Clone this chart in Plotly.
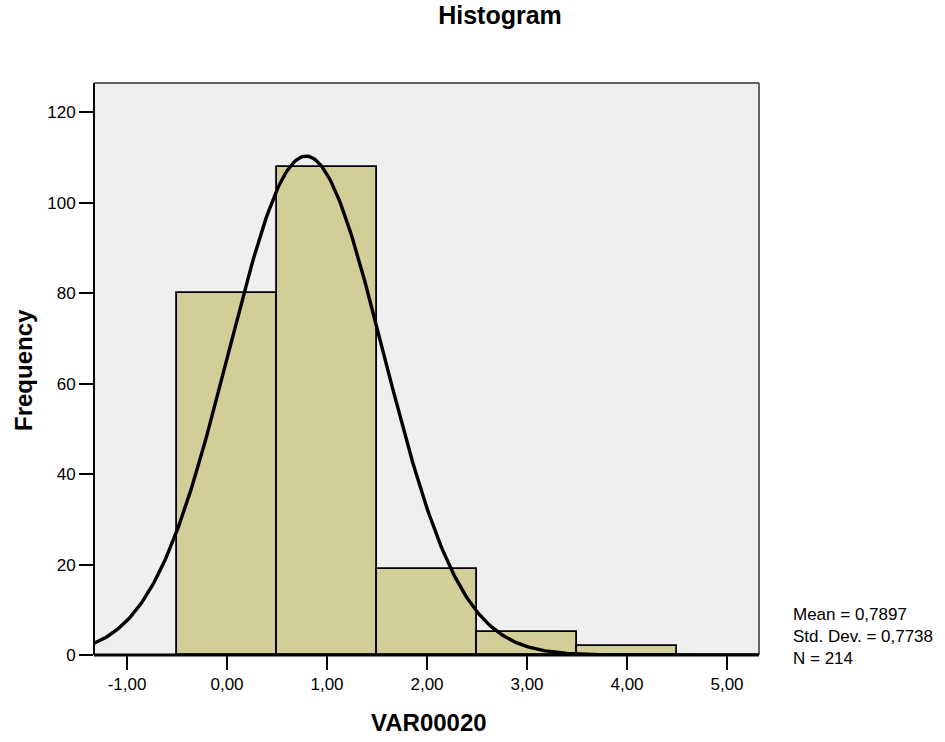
import numpy as np
import plotly.graph_objects as go

# Data
bin_centers = [0, 1, 2, 3, 4]
frequencies = [80, 108, 19, 5, 2]
bin_width = 1.0
mean_val = 0.7897
std_val = 0.7738
n_val = 214
x_ticks = [-1, 0, 1, 2, 3, 4, 5]
x_tick_labels = ["-1,00", "0,00", "1,00", "2,00", "3,00", "4,00", "5,00"]
y_ticks = [0, 20, 40, 60, 80, 100, 120]

x_range = [-1.33, 5.32]
y_range = [0, 126.5]

# Fitted normal curve from the reported mean / sd / N
xs = np.linspace(x_range[0], x_range[1], 400)
ys = n_val * bin_width / (std_val * np.sqrt(2 * np.pi)) * np.exp(-0.5 * ((xs - mean_val) / std_val) ** 2)

fig = go.Figure()
fig.add_trace(go.Bar(
    x=bin_centers, y=frequencies, width=bin_width,
    marker=dict(color="#d3ce98", line=dict(color="black", width=1.8)),
    hoverinfo="x+y", showlegend=False,
))
fig.add_trace(go.Scatter(
    x=xs, y=ys, mode="lines",
    line=dict(color="black", width=3.4),
    showlegend=False, hoverinfo="skip",
))

font_family = "Liberation Sans, Arial, sans-serif"

L, R, T, B = 94, 186, 83, 87
PW, PH = 945 - L - R, 742 - T - B


def px_x(px):
    return (px - L) / PW


def px_y(py):
    return (742 - B - py) / PH


fig.update_layout(
    width=945, height=742,
    margin=dict(l=L, r=R, t=T, b=B),
    paper_bgcolor="white",
    plot_bgcolor="#efefef",
    separators=",.",
    font=dict(family=font_family, size=17, color="black"),
    title=dict(text="<b>Histogram</b>", x=500 / 945, xanchor="center",
               y=1 - 15 / 742, yanchor="middle", xref="container", yref="container",
               font=dict(size=25, family=font_family, color="black")),
    bargap=0,
    xaxis=dict(
        range=x_range, tickvals=x_ticks, ticktext=x_tick_labels,
        ticks="outside", ticklen=14, tickwidth=2, tickcolor="black",
        showgrid=False, zeroline=False, showline=False,
        tickfont=dict(size=17),
    ),
    yaxis=dict(
        range=y_range, tickvals=y_ticks,
        ticks="outside", ticklen=14, tickwidth=2, tickcolor="black",
        showgrid=False, zeroline=False, showline=False,
        tickfont=dict(size=17),
    ),
    shapes=[
        dict(type="line", xref="paper", yref="paper", x0=0, x1=1, y0=1, y1=1,
             line=dict(color="#333333", width=1.5)),
        dict(type="line", xref="paper", yref="paper", x0=1, x1=1, y0=0, y1=1,
             line=dict(color="#333333", width=1.5)),
        dict(type="line", xref="paper", yref="paper", x0=0, x1=0, y0=0, y1=1,
             line=dict(color="black", width=2)),
        dict(type="line", xref="paper", yref="paper", x0=0, x1=1, y0=0, y1=0,
             line=dict(color="black", width=3)),
    ],
    annotations=[
        dict(text="<b>VAR00020</b>", xref="paper", yref="paper",
             x=px_x(428.5), y=px_y(722), xanchor="center", yanchor="middle",
             showarrow=False, font=dict(size=24, family=font_family)),
        dict(text="<b>Frequency</b>", xref="paper", yref="paper", textangle=-90,
             x=px_x(23), y=px_y(370), xanchor="center", yanchor="middle",
             showarrow=False, font=dict(size=24, family=font_family)),
        dict(text=f"Mean = {str(mean_val).replace('.', ',')}<br>Std. Dev. = {str(std_val).replace('.', ',')}<br>N = {n_val}",
             xref="paper", yref="paper", x=px_x(791), y=px_y(603),
             xanchor="left", yanchor="top", align="left", showarrow=False,
             font=dict(size=17, family=font_family)),
    ],
)

fig.write_html("out.html")
